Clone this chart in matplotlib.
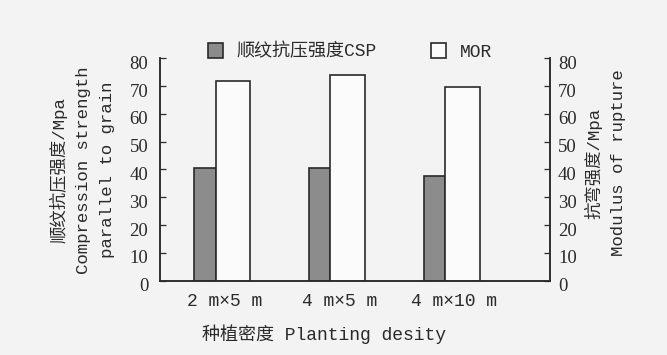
import numpy as np
import matplotlib
matplotlib.use("Agg")
import matplotlib.pyplot as plt
from matplotlib.patches import Patch
import matplotlib.transforms as mtransforms

categories = ['2 m×5 m', '4 m×5 m', '4 m×10 m']
csp = [40.4, 40.4, 37.8]
mor = [71.8, 74.0, 69.8]
yticks = [0, 10, 20, 30, 40, 50, 60, 70, 80]

MIX = ['Liberation Mono', 'Noto Sans CJK SC']
SERIF = ['Liberation Serif', 'DejaVu Serif']
INK = '#2a2a2a'
BG = '#f3f3f3'

fig = plt.figure(figsize=(6.67, 3.55), dpi=100, facecolor=BG)
ax = fig.add_axes([0.240, 0.2093, 0.584, 0.6265], facecolor=BG)

x = np.arange(len(categories))
ax.bar(x, csp, width=-0.185, align='edge', color='#8c8c8c', edgecolor=INK, linewidth=1.2, zorder=3)
ax.bar(x, mor, width=0.30, align='edge', color='#fbfbfb', edgecolor=INK, linewidth=1.2, zorder=3)

ax.set_xlim(-0.484, 2.91)
ax.set_ylim(0, 80)
ax.set_yticks(yticks)
ax.set_xticks(x + 0.08)
ax.set_xticklabels(categories, family=MIX, fontsize=13, color=INK)
ax.tick_params(axis='x', length=0, pad=9)
ax.tick_params(axis='y', direction='in', length=4.5, width=0.9, color=INK, pad=8.5,
               labelsize=13.5, labelcolor=INK)
for lab in ax.get_yticklabels():
    lab.set_family(SERIF)

ax.spines['top'].set_visible(False)
for s in ['left', 'right', 'bottom']:
    ax.spines[s].set_linewidth(1.1)
    ax.spines[s].set_color(INK)

ax2 = ax.twinx()
ax2.set_ylim(0, 80)
ax2.set_yticks(yticks)
ax2.tick_params(axis='y', direction='in', length=4.5, width=0.9, color=INK, pad=6,
                labelsize=13.5, labelcolor=INK)
for lab in ax2.get_yticklabels():
    lab.set_family(SERIF)
ax2.spines['top'].set_visible(False)
for s in ['left', 'right', 'bottom']:
    ax2.spines[s].set_linewidth(1.1)
    ax2.spines[s].set_color(INK)

off = mtransforms.ScaledTranslation(0, -4 / 100, fig.dpi_scale_trans)
for a in (ax, ax2):
    for lab in a.get_yticklabels():
        lab.set_transform(lab.get_transform() + off)

fig.text(82 / 667, 1 - 170 / 355, '顺纹抗压强度/Mpa\nCompression strength\nparallel to grain',
         rotation=90, ha='center', va='center', multialignment='center',
         family=MIX, fontsize=12.5, color=INK, linespacing=1.72)
fig.text(605.5 / 667, 1 - 163 / 355, '抗弯强度/Mpa\nModulus of rupture',
         rotation=90, ha='center', va='center', multialignment='center',
         family=MIX, fontsize=12.5, color=INK, linespacing=1.72)
fig.text(324 / 667, 1 - 334 / 355, '种植密度 Planting desity', ha='center', va='center',
         family=MIX, fontsize=13, color=INK)

handles = [Patch(facecolor='#8c8c8c', edgecolor=INK, linewidth=1.2),
           Patch(facecolor='#fbfbfb', edgecolor=INK, linewidth=1.2)]
leg = fig.legend(handles, ['顺纹抗压强度CSP', 'MOR'], loc='center',
                 bbox_to_anchor=(350 / 667, 1 - 52 / 355), ncol=2, frameon=False,
                 handlelength=0.85, handleheight=0.85, handletextpad=0.75,
                 columnspacing=3.0, prop={'family': MIX, 'size': 13})
for t in leg.get_texts():
    t.set_color(INK)

fig.savefig('out.png', dpi=100, facecolor=BG)
